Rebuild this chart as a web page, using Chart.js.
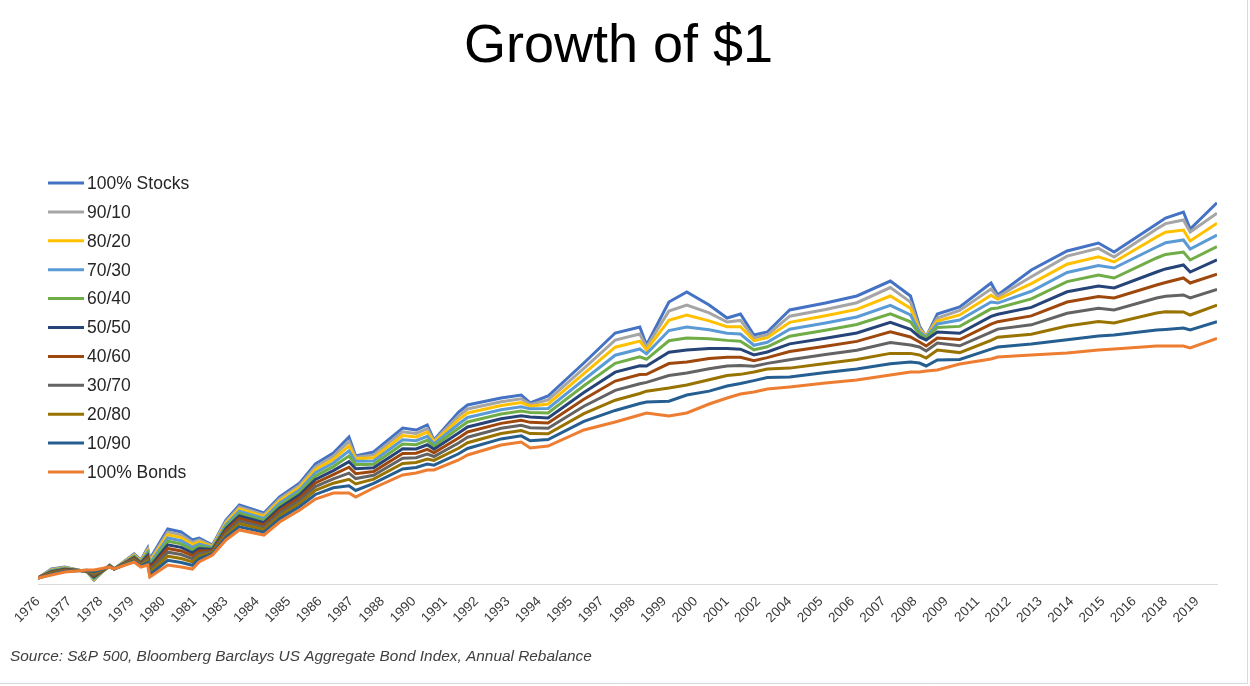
<!DOCTYPE html>
<html>
<head>
<meta charset="utf-8">
<title>Growth of $1</title>
<script src="https://cdn.jsdelivr.net/npm/chart.js@4.4.1/dist/chart.umd.min.js"></script>
<style>
  html, body { margin: 0; padding: 0; background: #ffffff; }
  #wrap { width: 1250px; height: 686px; position: relative; }
</style>
</head>
<body>
<div id="wrap"><canvas id="c" width="1250" height="686"></canvas></div>
<script>
// ---------------- DATA ----------------
const dates = ['1976-01','1976-07','1977-01','1977-11','1978-02','1978-09','1978-11','1979-08','1979-11','1980-02',
  '1980-03','1980-11','1981-05','1981-10','1982-01','1982-07','1983-01','1983-07','1984-06','1985-01',
  '1985-10','1986-05','1987-01','1987-08','1987-11','1988-07','1989-08','1990-02','1990-07','1990-10',
  '1991-09','1992-01','1993-04','1994-01','1994-05','1995-01','1996-05','1997-07','1998-06','1998-09',
  '1999-07','2000-03','2001-01','2001-09','2002-03','2002-09','2003-03','2004-01','2005-05','2006-07',
  '2007-10','2008-07','2008-11','2009-02','2009-07','2010-05','2011-07','2011-10','2013-01','2014-05',
  '2015-07','2016-02','2017-09','2018-01','2018-09','2018-12','2019-12'];

const seriesNames = ['100% Stocks','90/10','80/20','70/30','60/40','50/50','40/60','30/70','20/80','10/90','100% Bonds'];

const tickYears = ['1976','1977','1978','1979','1980','1981','1983','1984','1985','1986','1987','1988','1990',
  '1991','1992','1993','1994','1995','1997','1998','1999','2000','2001','2002','2004','2005','2006','2007',
  '2008','2009','2011','2012','2013','2014','2015','2016','2018','2019'];

const stocks100 = [1, 1.123, 1.152, 1.080, 0.975, 1.183, 1.123, 1.363, 1.261, 1.473,
  1.278, 1.882, 1.810, 1.633, 1.675, 1.531, 2.113, 2.564, 2.313, 2.843,
  3.406, 4.352, 5.016, 6.165, 4.825, 5.081, 6.924, 6.748, 7.198, 5.931,
  8.512, 9.316, 10.20, 10.60, 9.560, 10.46, 16.01, 23.58, 25.48, 20.20,
  35.17, 40.01, 33.84, 28.62, 30.13, 22.98, 23.89, 31.73, 34.72, 38.01,
  46.11, 38.01, 25.81, 22.40, 30.13, 32.98, 44.94, 38.50, 53.15, 67.92,
  75.31, 67.05, 96.23, 103.9, 112.3, 90.21, 126.6];

const mix90 = [1, 1.116, 1.146, 1.083, 0.978, 1.180, 1.123, 1.352, 1.252, 1.447,
  1.254, 1.813, 1.746, 1.585, 1.634, 1.515, 2.070, 2.499, 2.261, 2.771,
  3.312, 4.198, 4.813, 5.819, 4.749, 4.895, 6.596, 6.455, 6.871, 5.863,
  8.100, 8.848, 9.714, 10.10, 9.395, 9.937, 14.95, 21.52, 23.27, 19.67,
  31.28, 33.84, 30.55, 27.18, 27.74, 22.15, 23.03, 29.30, 31.97, 34.85,
  42.36, 35.14, 25.15, 22.69, 28.62, 31.56, 41.55, 37.59, 48.69, 63.60,
  70.29, 62.86, 90.21, 96.7, 101.3, 86.79, 110.5];

const mix80 = [1, 1.109, 1.141, 1.085, 0.983, 1.178, 1.123, 1.341, 1.243, 1.422,
  1.231, 1.747, 1.684, 1.538, 1.594, 1.500, 2.028, 2.435, 2.210, 2.700,
  3.221, 4.049, 4.618, 5.492, 4.650, 4.717, 6.284, 6.174, 6.559, 5.772,
  7.710, 8.403, 9.253, 9.618, 9.180, 9.437, 13.95, 19.63, 21.25, 19.00,
  27.80, 29.74, 27.59, 25.55, 25.55, 21.35, 22.19, 27.07, 29.44, 31.96,
  37.99, 32.49, 24.51, 22.54, 27.53, 29.75, 38.42, 36.40, 44.60, 57.24,
  62.94, 58.94, 81.36, 86.6, 89.06, 77.27, 97.1];

const mix70 = [1, 1.102, 1.134, 1.088, 0.991, 1.175, 1.123, 1.328, 1.233, 1.394,
  1.206, 1.675, 1.617, 1.487, 1.550, 1.482, 1.981, 2.366, 2.154, 2.623,
  3.122, 3.887, 4.408, 5.147, 4.504, 4.524, 5.950, 5.873, 6.225, 5.640,
  7.290, 7.929, 8.762, 9.108, 8.865, 8.905, 12.90, 17.70, 19.19, 18.02,
  24.35, 25.48, 24.59, 23.52, 23.28, 20.13, 20.93, 24.75, 26.83, 28.99,
  33.65, 29.74, 23.89, 22.40, 26.49, 27.85, 35.17, 34.69, 40.40, 51.52,
  56.36, 54.55, 71.52, 75.5, 78.28, 69.70, 83.5];

const mix60 = [1, 1.094, 1.127, 1.090, 1.001, 1.172, 1.123, 1.316, 1.223, 1.367,
  1.181, 1.607, 1.553, 1.438, 1.508, 1.465, 1.936, 2.298, 2.100, 2.548,
  3.026, 3.732, 4.209, 4.823, 4.317, 4.338, 5.634, 5.587, 5.908, 5.468,
  6.894, 7.482, 8.297, 8.624, 8.463, 8.403, 11.94, 15.96, 17.32, 16.80,
  21.34, 22.11, 21.92, 21.44, 21.21, 18.98, 19.73, 22.63, 24.45, 26.30,
  30.17, 27.24, 23.28, 22.11, 25.32, 25.68, 32.21, 32.55, 36.61, 45.78,
  49.77, 47.94, 62.06, 65.0, 67.05, 60.48, 71.8];

const mix50 = [1, 1.086, 1.120, 1.093, 1.014, 1.169, 1.123, 1.302, 1.212, 1.337,
  1.154, 1.534, 1.484, 1.385, 1.462, 1.446, 1.886, 2.225, 2.041, 2.467,
  2.922, 3.568, 3.997, 4.487, 4.095, 4.142, 5.302, 5.286, 5.575, 5.260,
  6.482, 7.014, 7.809, 8.117, 7.985, 7.878, 10.95, 14.23, 15.46, 15.39,
  18.42, 18.94, 19.29, 19.33, 19.13, 17.77, 18.47, 20.49, 22.05, 23.59,
  27.05, 24.69, 22.40, 21.55, 23.89, 23.52, 29.20, 30.05, 32.81, 40.12,
  43.29, 42.13, 51.80, 53.9, 56.68, 51.80, 60.5];

const mix40 = [1, 1.077, 1.113, 1.096, 1.030, 1.166, 1.123, 1.289, 1.201, 1.308,
  1.127, 1.464, 1.418, 1.334, 1.417, 1.428, 1.838, 2.155, 1.984, 2.389,
  2.822, 3.410, 3.796, 4.174, 3.843, 3.953, 4.990, 5.001, 5.260, 5.022,
  6.092, 6.576, 7.349, 7.639, 7.448, 7.385, 10.04, 12.69, 13.80, 13.85,
  15.90, 16.22, 16.98, 17.26, 17.26, 16.51, 17.16, 18.56, 19.89, 21.17,
  23.96, 22.39, 20.99, 19.94, 22.11, 21.69, 26.47, 27.30, 29.40, 35.17,
  37.77, 37.04, 43.82, 45.2, 47.94, 44.94, 50.3];

const mix30 = [1, 1.068, 1.106, 1.099, 1.046, 1.163, 1.123, 1.275, 1.190, 1.278,
  1.100, 1.395, 1.353, 1.283, 1.372, 1.408, 1.789, 2.083, 1.926, 2.309,
  2.721, 3.252, 3.596, 3.869, 3.607, 3.765, 4.683, 4.718, 4.950, 4.794,
  5.709, 6.146, 6.896, 7.168, 6.947, 6.902, 9.171, 11.25, 12.25, 12.47,
  13.63, 14.08, 14.85, 15.41, 15.49, 15.34, 15.94, 16.72, 17.85, 18.90,
  20.84, 20.20, 19.69, 18.70, 20.73, 20.00, 23.88, 24.80, 26.21, 30.44,
  32.44, 31.73, 37.04, 37.9, 38.50, 37.04, 41.4];

const mix20 = [1, 1.059, 1.098, 1.102, 1.064, 1.160, 1.123, 1.261, 1.178, 1.248,
  1.072, 1.325, 1.287, 1.231, 1.326, 1.389, 1.739, 2.010, 1.867, 2.229,
  2.618, 3.095, 3.397, 3.573, 3.367, 3.578, 4.381, 4.439, 4.644, 4.558,
  5.333, 5.724, 6.451, 6.706, 6.441, 6.429, 8.339, 9.910, 10.81, 11.13,
  11.59, 12.06, 12.90, 13.61, 13.83, 14.25, 14.81, 14.99, 15.93, 16.77,
  18.13, 18.13, 17.76, 17.08, 18.94, 18.31, 21.44, 22.35, 23.23, 25.82,
  27.32, 26.83, 30.52, 31.0, 30.92, 29.74, 33.8];

const mix10 = [1, 1.050, 1.090, 1.105, 1.086, 1.156, 1.123, 1.246, 1.166, 1.217,
  1.044, 1.256, 1.222, 1.179, 1.280, 1.368, 1.688, 1.937, 1.807, 2.147,
  2.516, 2.938, 3.201, 3.288, 3.094, 3.392, 4.085, 4.164, 4.344, 4.285,
  4.966, 5.315, 6.016, 6.254, 5.871, 5.969, 7.550, 8.685, 9.491, 9.669,
  9.786, 10.60, 11.14, 11.90, 12.28, 12.76, 13.27, 13.37, 14.15, 14.81,
  15.87, 16.20, 16.01, 15.41, 16.65, 16.77, 19.15, 19.66, 20.48, 21.62,
  22.66, 22.98, 24.51, 24.7, 25.15, 24.51, 27.3];

const bonds100 = [1, 1.039, 1.080, 1.109, 1.109, 1.152, 1.123, 1.229, 1.152, 1.183,
  1.013, 1.183, 1.152, 1.123, 1.229, 1.345, 1.633, 1.858, 1.741, 2.059,
  2.404, 2.771, 2.994, 2.994, 2.843, 3.193, 3.776, 3.875, 4.028, 4.028,
  4.582, 4.888, 5.561, 5.780, 5.349, 5.489, 6.748, 7.482, 8.188, 8.403,
  8.083, 8.403, 9.437, 10.20, 10.74, 11.02, 11.45, 11.75, 12.37, 12.86,
  13.72, 14.26, 14.26, 14.45, 14.63, 15.81, 16.86, 17.30, 17.76, 18.22,
  18.94, 19.19, 19.94, 19.94, 19.94, 19.43, 22.0];

// ---------------- STYLE ----------------
const seriesColors = ['#4472C4','#A5A5A5','#FFC000','#5B9BD5','#70AD47','#264478','#9E480E','#636363','#997300','#255E91','#ED7D31'];
const FONT = '"Liberation Sans", Arial, Helvetica, sans-serif';
const START_YEAR = 1976;
const LABEL_STEP = 14;   // months between category labels
const LAST_MONTH = 527;  // Dec 2019

function monthIndex(d) {
  const p = d.split('-').map(Number);
  return (p[0] - START_YEAR) * 12 + (p[1] - 1);
}
const xs = dates.map(monthIndex);
const allSeries = [stocks100, mix90, mix80, mix70, mix60, mix50, mix40, mix30, mix20, mix10, bonds100];

const datasets = allSeries.map((vals, k) => ({
  label: seriesNames[k],
  data: vals.map((v, j) => ({ x: xs[j], y: v })),
  borderColor: seriesColors[k],
  backgroundColor: seriesColors[k],
  borderWidth: 3,
  pointRadius: 0,
  pointHoverRadius: 0,
  tension: 0,
  fill: false,
  order: allSeries.length - k
}));

const decor = {
  id: 'decor',
  beforeDraw(chart) {
    const ctx = chart.ctx;
    ctx.save();
    ctx.fillStyle = '#ffffff';
    ctx.fillRect(0, 0, chart.width, chart.height);
    ctx.restore();
  },
  afterDraw(chart) {
    const ctx = chart.ctx;
    ctx.save();
    // title
    ctx.fillStyle = '#000000';
    ctx.font = '54px ' + FONT;
    ctx.textAlign = 'center';
    ctx.textBaseline = 'alphabetic';
    ctx.fillText('Growth of $1', 618.5, 62);
    // legend
    ctx.textAlign = 'left';
    ctx.textBaseline = 'middle';
    ctx.font = '17.5px ' + FONT;
    seriesNames.forEach((name, k) => {
      const y = 183 + k * 28.9;
      ctx.strokeStyle = seriesColors[k];
      ctx.lineWidth = 3;
      ctx.beginPath();
      ctx.moveTo(48, y);
      ctx.lineTo(84, y);
      ctx.stroke();
      ctx.fillStyle = '#262626';
      ctx.fillText(name, 87, y + 1);
    });
    // source note
    ctx.font = 'italic 15.4px ' + FONT;
    ctx.fillStyle = '#404040';
    ctx.fillText('Source: S&P 500, Bloomberg Barclays US Aggregate Bond Index, Annual Rebalance', 10, 657);
    // frame
    ctx.strokeStyle = '#d9d9d9';
    ctx.lineWidth = 1;
    ctx.beginPath();
    ctx.moveTo(1247.5, 0);
    ctx.lineTo(1247.5, 683.5);
    ctx.lineTo(0, 683.5);
    ctx.stroke();
    ctx.restore();
  }
};

new Chart(document.getElementById('c'), {
  type: 'line',
  data: { datasets },
  plugins: [decor],
  options: {
    responsive: false,
    animation: false,
    events: [],
    layout: { padding: { top: 150, left: 38, right: 33, bottom: 0 } },
    plugins: {
      legend: { display: false },
      title: { display: false },
      tooltip: { enabled: false }
    },
    scales: {
      x: {
        type: 'linear',
        min: 0,
        max: LAST_MONTH,
        grid: { display: false, drawTicks: false },
        border: { display: true, color: '#d9d9d9', width: 1 },
        afterBuildTicks: (scale) => {
          scale.ticks = tickYears.map((_, k) => ({ value: k * LABEL_STEP }));
        },
        afterFit: (scale) => {
          scale.height = 101.5;
          scale.paddingLeft = 0;
          scale.paddingRight = 0;
        },
        ticks: {
          autoSkip: false,
          minRotation: 45,
          maxRotation: 45,
          padding: 9,
          color: '#3a3a3a',
          font: { family: FONT, size: 13.5 },
          callback: (value) => {
            const k = Math.round(value / LABEL_STEP);
            return tickYears[k] || '';
          }
        }
      },
      y: {
        type: 'logarithmic',
        display: false,
        min: 0.9196,
        max: 249.9
      }
    }
  }
});
</script>
</body>
</html>
